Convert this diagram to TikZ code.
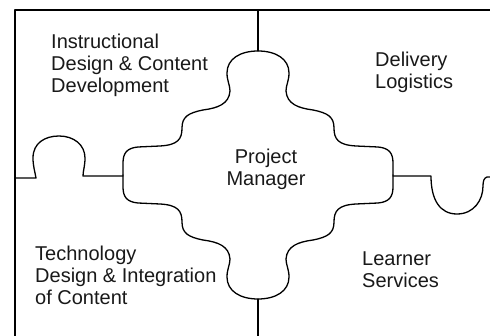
\documentclass[tikz,border=0pt]{standalone}
\usepackage{fontspec}
\setmainfont{Liberation Sans}
\newcommand\pmquarter{(0,-124) .. controls (-18,-124) and (-31,-116) .. (-31,-102) .. controls (-31,-94) and (-28,-90) .. (-28,-84) .. controls (-29,-71) and (-40,-67) .. (-55,-65) .. controls (-70,-62) and (-76,-58) .. (-76,-47) .. controls (-76,-36) and (-80,-30) .. (-98,-29) -- (-120,-28) .. controls (-131,-27) and (-135,-22) .. (-135,-12) -- (-135,0)}
\begin{document}
\begin{tikzpicture}[x=1pt,y=-1pt,
  edge/.style={line width=1.3pt,line cap=round,line join=round},
  seam/.style={line width=2.6pt},
  lbl/.style={inner sep=0pt,align=left,anchor=base west,text=black!90,font=\fontsize{20}{22}\selectfont}]
\useasboundingbox (0,0) rectangle (490,336);
% frame
\draw[edge] (15,336) -- (15,10) -- (490,10);
% vertical seams
\draw[seam] (258,10) -- (258,51);
\draw[seam] (258,299) -- (258,336);
% central piece
\begin{scope}[shift={(258,175)}]
  \draw[edge] \pmquarter;
  \begin{scope}[xscale=-1] \draw[edge] \pmquarter; \end{scope}
  \begin{scope}[yscale=-1] \draw[edge] \pmquarter; \end{scope}
  \begin{scope}[xscale=-1,yscale=-1] \draw[edge] \pmquarter; \end{scope}
\end{scope}
% left horizontal seam with knob
\draw[edge] (15,178) -- (36,178) .. controls (35,172) and (33,166) .. (33,158) .. controls (33,143) and (45,136) .. (59,136) .. controls (74,136) and (85,145) .. (85,158) .. controls (85,166) and (83,171) .. (83,176) -- (123,176);
% right horizontal seam with knob
\draw[edge] (393,176) -- (431,176) .. controls (431,200) and (440,214) .. (457,214) .. controls (474,214) and (483,200) .. (483,186) .. controls (483,181) and (484,178) .. (487,177) -- (490,177);
% labels (base anchor = baseline of last line)
\node[lbl] (idcd) at (51,93) {Instructional\\Design \& Content\\Development};
\node[lbl] (dl) at (375,89) {Delivery\\Logistics};
\node[lbl,align=center,anchor=base] (pm) at (266,186) {Project\\Manager};
\node[lbl] (tdi) at (35,305) {Technology\\Design \& Integration\\of Content};
\node[lbl] (ls) at (362,288) {Learner\\Services};
\end{tikzpicture}
\end{document}
